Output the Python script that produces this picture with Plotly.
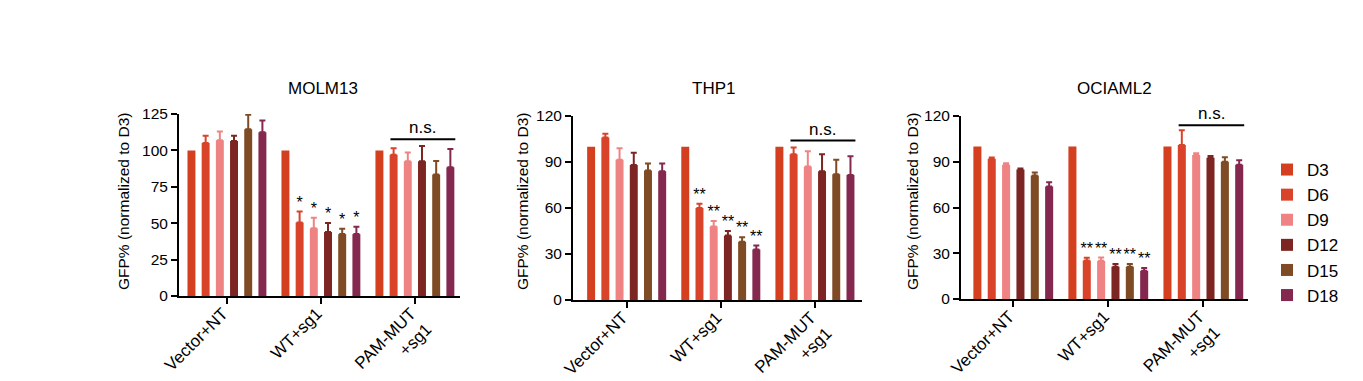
import plotly.graph_objects as go

# ---------------- data ----------------
categories = ["Vector+NT", "WT+sg1", "PAM-MUT<br>+sg1"]
days = ["D3", "D6", "D9", "D12", "D15", "D18"]
colors = ["#D4401F", "#D8432A", "#EF8383", "#7C2522", "#7E4B24", "#84284F"]

panel_titles = ["MOLM13", "THP1", "OCIAML2"]

# rows = days, cols = categories
molm13_mean = [[100, 100, 100], [105, 50.5, 97], [107, 46.5, 92.5],
               [106.5, 44, 92.5], [114.5, 42.5, 83.5], [112.5, 42.5, 88.5]]
molm13_err = [[0, 0, 0], [5, 7.5, 4.5], [6, 7.2, 6],
              [3.5, 6.2, 10.5], [10, 3.7, 9.2], [8, 5, 12.5]]
molm13_stars = ["", "*", "*", "*", "*", "*"]

thp1_mean = [[100, 100, 100], [106, 60, 95], [91.5, 48, 87],
             [88, 42, 84], [84.5, 38, 82], [84, 33, 81.5]]
thp1_err = [[0, 0, 0], [2.5, 2.8, 4.4], [7.5, 3.5, 10],
            [8, 3, 11], [4.5, 3, 9.5], [5, 2.5, 12.3]]
thp1_stars = ["", "**", "**", "**", "**", "**"]

ociaml2_mean = [[100, 100, 100], [92, 25.3, 101], [88, 25, 94.5],
                [85, 21.2, 92.7], [81, 21.2, 90], [73.8, 18.5, 88]]
ociaml2_err = [[0, 0, 0], [0.8, 1.8, 9.7], [1, 2.2, 1],
               [0.6, 1.8, 1], [2, 1.8, 3], [2.8, 1.8, 3]]
ociaml2_stars = ["", "**", "**", "**", "**", "**"]

star_category = "WT+sg1"
ns_level = [107.6, 104, 114]

y_max = [125, 120, 120]
y_step = [25, 30, 30]

# ---------------- layout geometry (page pixels) ----------------
W, H = 1363, 381


def fx(px):
    return px / W


def fy(py):
    return 1 - py / H


x_dom = [(179, 460), (573, 862), (961, 1248)]
y_dom = [(296, 114), (300, 116), (299, 116)]
x_rng = [(-0.51, 2.48), (-0.57, 2.5), (-0.55, 2.47)]
ns_x = (1.74, 2.43)
title_x = [323, 713, 1114]
title_y = 88
ytitle_x = [123, 522, 912]
ytitle_y = 202

FONT = "Arial, Liberation Sans, Helvetica, sans-serif"

means = [molm13_mean, thp1_mean, ociaml2_mean]
errs = [molm13_err, thp1_err, ociaml2_err]
stars = [molm13_stars, thp1_stars, ociaml2_stars]

fig = go.Figure()
layout_axes = {}
annotations = []
shapes = []

for p in range(3):
    sfx = "" if p == 0 else str(p + 1)
    xa, ya = "x" + sfx, "y" + sfx
    for k, day in enumerate(days):
        has_err = any(e > 0 for e in errs[p][k])
        fig.add_trace(go.Bar(
            x=categories, y=means[p][k], name=day,
            marker=dict(color=colors[k], line=dict(width=0)),
            error_y=dict(type="data", symmetric=False, array=errs[p][k],
                         arrayminus=[0] * len(categories), color=colors[k],
                         thickness=2, width=3, visible=has_err),
            offsetgroup=day, legendgroup=day, showlegend=(p == 0),
            xaxis=xa, yaxis=ya, hoverinfo="skip"))
    # significance stars
    for k, day in enumerate(days):
        ys, ts = [], []
        for c, cat in enumerate(categories):
            if cat == star_category and stars[p][k]:
                ys.append(means[p][k][c] + errs[p][k][c])
                ts.append(stars[p][k])
            else:
                ys.append(0)
                ts.append("")
        fig.add_trace(go.Scatter(
            x=categories, y=ys, text=ts, mode="text",
            textposition="top center",
            textfont=dict(size=16, color="black", family=FONT),
            offsetgroup=day, showlegend=False, cliponaxis=False,
            xaxis=xa, yaxis=ya, hoverinfo="skip"))

    layout_axes["xaxis" + sfx] = dict(
        domain=[fx(x_dom[p][0]), fx(x_dom[p][1])], anchor=ya, automargin=False,
        range=list(x_rng[p]), showline=True, linecolor="black", linewidth=2,
        ticks="outside", ticklen=6, tickwidth=2, tickcolor="black",
        tickangle=-45, tickfont=dict(size=17, color="black", family=FONT),
        ticklabelstandoff=-7, ticklabelshift=-4,
        showgrid=False, zeroline=False, fixedrange=True)
    layout_axes["yaxis" + sfx] = dict(
        domain=[fy(y_dom[p][0]), fy(y_dom[p][1])], anchor=xa, automargin=False,
        range=[0, y_max[p]], tick0=0, dtick=y_step[p],
        showline=True, linecolor="black", linewidth=2,
        ticks="outside", ticklen=6, tickwidth=2, tickcolor="black",
        tickfont=dict(size=15.5, color="black", family=FONT),
        showgrid=False, zeroline=False, fixedrange=True)

    # panel title
    annotations.append(dict(text=panel_titles[p], x=fx(title_x[p]), y=fy(title_y),
                            xref="paper", yref="paper", xanchor="center", yanchor="middle",
                            showarrow=False, font=dict(size=17, color="black", family=FONT)))
    # y-axis title
    annotations.append(dict(text="GFP% (normalized to D3)", x=fx(ytitle_x[p]),
                            y=fy(ytitle_y), xref="paper", yref="paper",
                            xanchor="center", yanchor="middle", textangle=-90,
                            showarrow=False, font=dict(size=15.5, color="black", family=FONT)))
    # n.s. bracket
    shapes.append(dict(type="line", xref=xa, yref=ya, x0=ns_x[0], x1=ns_x[1],
                       y0=ns_level[p], y1=ns_level[p], line=dict(color="black", width=2)))
    annotations.append(dict(text="n.s.", x=(ns_x[0] + ns_x[1]) / 2, y=ns_level[p],
                            xref=xa, yref=ya, xanchor="center", yanchor="bottom",
                            showarrow=False, font=dict(size=17, color="black", family=FONT)))

fig.update_layout(
    width=W, height=H, margin=dict(l=0, r=0, t=0, b=0, pad=0), autosize=False,
    paper_bgcolor="white", plot_bgcolor="white",
    barmode="group", bargap=0.094, bargroupgap=0.44,
    scattermode="group", scattergap=0.094,
    font=dict(family=FONT, color="black"),
    legend=dict(x=1267 / W, y=1 - 152 / H, xanchor="left", yanchor="top",
                font=dict(size=17, color="black", family=FONT),
                bgcolor="rgba(0,0,0,0)", borderwidth=0, tracegroupgap=0),
    annotations=annotations, shapes=shapes,
    **layout_axes)

# the page body's default 8px margin would push the 1363x381 figure off-screen
fig.write_html(
    "out.html",
    config={"displayModeBar": False},
    post_script="document.body.style.margin='0px';"
                "document.documentElement.style.overflow='hidden';")
